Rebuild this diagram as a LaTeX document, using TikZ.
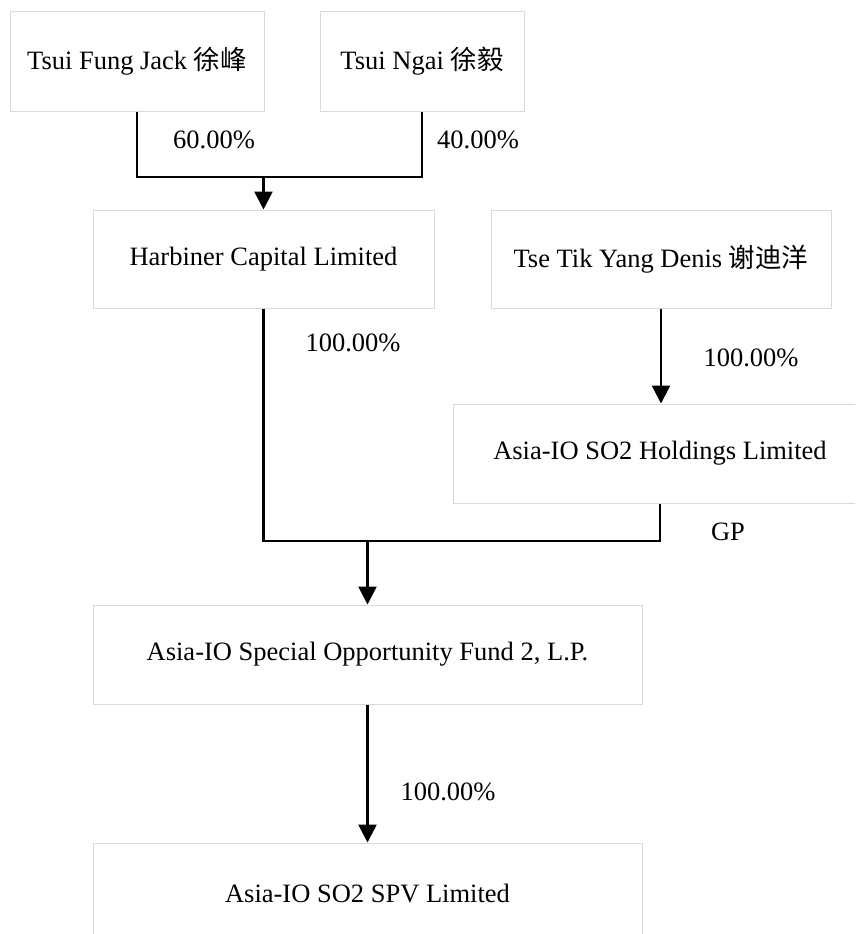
\documentclass[tikz,border=0pt]{standalone}
\usepackage{fontspec}
\setmainfont{Liberation Serif}
\newfontfamily\cjk{Noto Sans CJK SC}
\usetikzlibrary{arrows.meta}
\begin{document}
\begin{tikzpicture}[x=1pt,y=-1pt,
  entity/.style={draw=black!15,line width=1pt,fill=white,inner sep=0pt,
    font=\fontsize{26.5}{30}\selectfont},
  conn/.style={line width=2.6pt,black},
  arr/.style={conn,-{Triangle[width=18pt,length=18pt]}},
  lbl/.style={inner sep=0pt,font=\fontsize{26.5}{30}\selectfont}]
\clip (0,0) rectangle (855,934);
\fill[white] (0,0) rectangle (855,934);
% boxes
\node[entity,minimum width=254pt,minimum height=99pt] (A) at (137,61.5) {Tsui Fung Jack {\cjk 徐峰}};
\node[entity,minimum width=204pt,minimum height=99pt] (B) at (422,61.5) {Tsui Ngai {\cjk 徐毅}};
\node[entity,minimum width=341pt,minimum height=98pt] (H) at (263.5,259) {Harbiner Capital Limited};
\node[entity,minimum width=340pt,minimum height=98pt] (T) at (661,259) {Tse Tik Yang Denis {\cjk 谢迪洋}};
\node[entity,minimum width=414pt,minimum height=99pt] (S) at (660,453.5) {Asia-IO SO2 Holdings Limited};
\node[entity,minimum width=549pt,minimum height=99pt] (F) at (367.5,654.5) {Asia-IO Special Opportunity Fund 2, L.P.};
\node[entity,minimum width=549pt,minimum height=100pt] (V) at (367.5,893) {Asia-IO SO2 SPV Limited};
% connectors
\coordinate (j1) at (H.north |- 0,177);
\draw[conn] (A.south) |- (j1) -| (B.south);
\draw[arr] (j1) -- (H.north);
\coordinate (j2) at (F.north |- 0,541);
\draw[conn] (H.south) |- (j2) -| (S.south);
\draw[arr] (j2) -- (F.north);
\draw[arr] (T.south) -- (T.south |- S.north);
\draw[arr] (F.south) -- (V.north);
% labels
\node[lbl] (l1) at (214,140) {60.00\%};
\node[lbl] (l2) at (478,140) {40.00\%};
\node[lbl] (l3) at (353,343) {100.00\%};
\node[lbl] (l4) at (751,358) {100.00\%};
\node[lbl] (l5) at (728,532) {GP};
\node[lbl] (l6) at (448,792) {100.00\%};
\end{tikzpicture}
\end{document}
